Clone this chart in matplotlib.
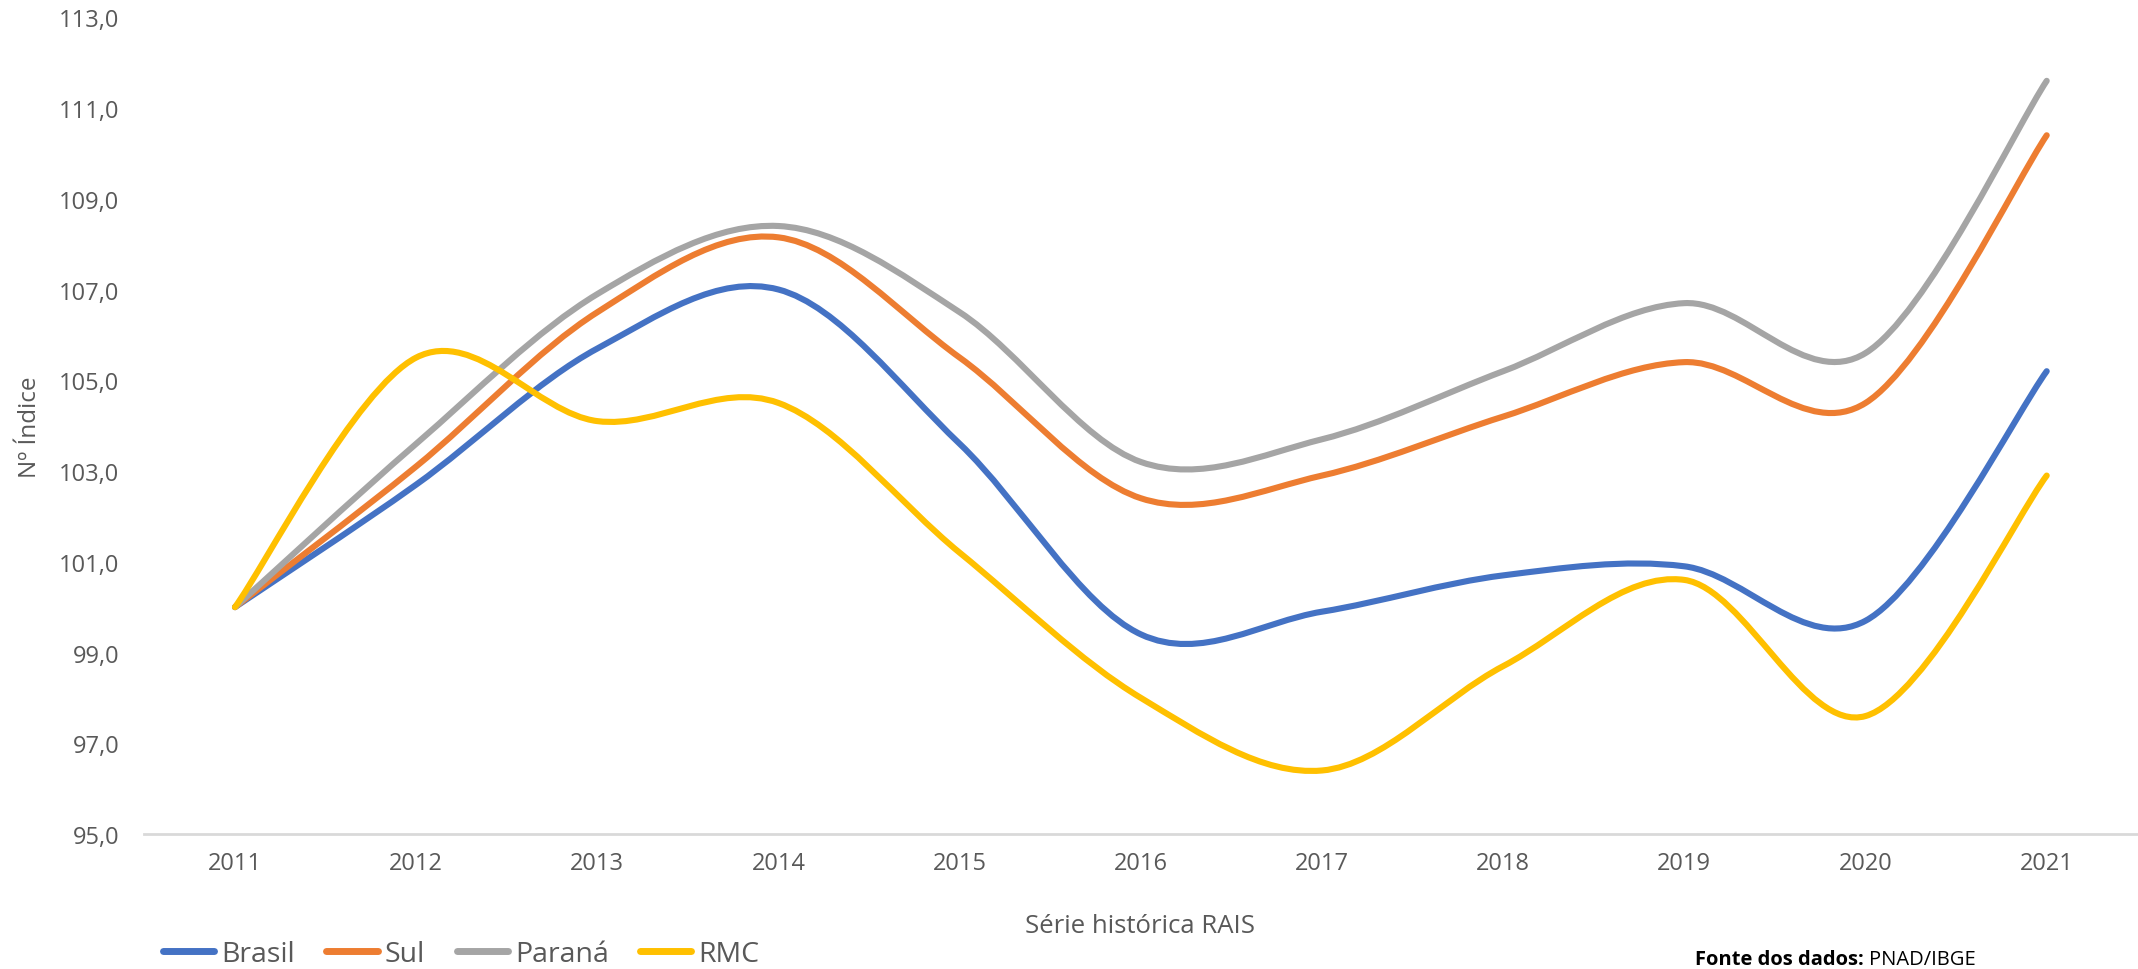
import matplotlib.pyplot as plt
import numpy as np
from matplotlib.path import Path
from matplotlib.patches import PathPatch
from matplotlib.lines import Line2D

plt.rcParams['font.family'] = ['Open Sans', 'DejaVu Sans']

# data
years = ['2011', '2012', '2013', '2014', '2015', '2016', '2017', '2018', '2019', '2020', '2021']
brasil = [100.0, 102.7, 105.7, 107.0, 103.6, 99.4, 99.9, 100.7, 100.9, 99.7, 105.2]
sul = [100.0, 103.1, 106.5, 108.15, 105.5, 102.4, 102.9, 104.2, 105.4, 104.5, 110.4]
parana = [100.0, 103.6, 106.9, 108.4, 106.5, 103.2, 103.7, 105.2, 106.7, 105.6, 111.6]
rmc = [100.0, 105.5, 104.1, 104.5, 101.2, 98.0, 96.4, 98.7, 100.6, 97.6, 102.9]

series = [('Brasil', brasil, '#4472C4'),
          ('Sul', sul, '#ED7D31'),
          ('Paraná', parana, '#A5A5A5'),
          ('RMC', rmc, '#FFC000')]

txt = '#595959'


#smoothed line like excel: catmull-rom turned into bezier segments
def smooth_path(x, y):
    pts = np.column_stack([x, y]).astype(float)
    pad = np.vstack([pts[0], pts, pts[-1]])
    verts = [pts[0]]
    codes = [Path.MOVETO]
    for i in range(1, len(pad) - 2):
        p0, p1, p2, p3 = pad[i - 1], pad[i], pad[i + 1], pad[i + 2]
        c1 = p1 + (p2 - p0) / 6
        c2 = p2 - (p3 - p1) / 6
        verts += [c1, c2, p2]
        codes += [Path.CURVE4] * 3
    return Path(verts, codes)


fig = plt.figure(figsize=(21.38, 9.70), dpi=100)
ax = fig.add_axes([144.4 / 2138, 1 - 835 / 970, (2137.3 - 144.4) / 2138, (835 - 18.3) / 970])

x = np.arange(len(years))
for name, vals, col in series:
    patch = PathPatch(smooth_path(x, vals), facecolor='none', edgecolor=col,
                      lw=4.4, capstyle='round', joinstyle='round', zorder=3)
    ax.add_patch(patch)

ax.set_xlim(-0.5, len(years) - 0.5)
ax.set_ylim(95, 113)
ax.set_xticks(x)
ax.set_xticklabels(years)
yt = np.arange(95, 114, 2)
ax.set_yticks(yt)
ax.set_yticklabels([f'{v:.1f}'.replace('.', ',') for v in yt])
ax.tick_params(length=0, labelsize=17, colors=txt)
ax.tick_params(axis='x', pad=12)
ax.tick_params(axis='y', pad=18)

for s in ['top', 'right', 'left']:
    ax.spines[s].set_visible(False)
ax.spines['bottom'].set_color('#D9D9D9')
ax.spines['bottom'].set_linewidth(2)

fig.text(1140 / 2138, 1 - 927 / 970, 'Série histórica RAIS', ha='center', va='center',
         fontsize=18.5, color=txt)
fig.text(30 / 2138, 1 - 427 / 970, 'Nº Índice', rotation=90, ha='center', va='center',
         fontsize=17.5, color=txt)

handles = [Line2D([], [], color=c, lw=5, solid_capstyle='round') for _, _, c in series]
fig.legend(handles, [s[0] for s in series], loc='center left',
           bbox_to_anchor=(163 / 2138, 1 - 955 / 970), ncol=4, frameon=False,
           fontsize=20.5, labelcolor=txt, handlelength=1.8, handletextpad=0.25,
           columnspacing=1.1, borderaxespad=0, borderpad=0)

src = fig.text(1695 / 2138, 1 - 960 / 970, 'Fonte dos dados: ', ha='left', va='center',
               fontsize=14.5, fontweight='bold', color='black')
fig.canvas.draw()
bb = src.get_window_extent()
fig.text(bb.x1 / fig.bbox.width, 1 - 960 / 970, 'PNAD/IBGE', ha='left', va='center',
         fontsize=14.5, color='black')

fig.savefig('out.png', dpi=100)
